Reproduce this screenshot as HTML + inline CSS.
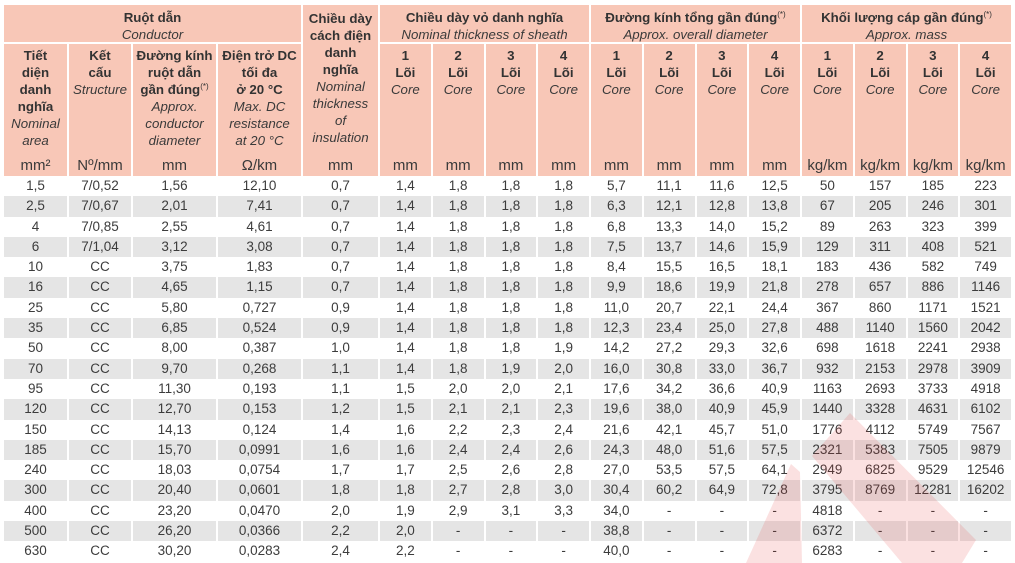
<!DOCTYPE html>
<html>
<head>
<meta charset="utf-8">
<style>
html,body{margin:0;padding:0}
body{width:1015px;height:563px;background:#fff;overflow:hidden;position:relative;font-family:"Liberation Sans","DejaVu Sans",sans-serif}
.g{position:absolute;left:4px;top:5px;display:grid;grid-template-columns:63px 64px 85px 85px 77px repeat(12,52.75px);grid-template-rows:38.5px 132.5px repeat(19,20.3px)}
.g>div,.r>div{box-sizing:border-box;border-left:2px solid #fff;text-align:center;overflow:hidden;white-space:nowrap}
.h{background:#f8c7b7;color:#333;font-weight:bold;font-size:13.3px;line-height:17px}
.h i{font-weight:normal;color:#3a3a3a}
.t{padding-top:4px;border-bottom:2px solid #fff}
.s{display:flex;flex-direction:column;padding-top:3px;padding-bottom:2px}
.s .u{margin-top:auto;font-weight:normal;font-size:15px;line-height:17px;color:#3a3a3a}
.nl{border-left:0 !important}
sup{font-size:8px;line-height:0;vertical-align:5px;font-weight:normal}
.r{display:contents}
.r>div{font-size:13.5px;line-height:20.3px;color:#3c3c3c}
.r>div:first-child{border-left:0}
.r.k>div{background:#e5e5e5}
svg{position:absolute;left:0;top:0}
</style>
</head>
<body>
<div class="g">
  <div class="h t nl" style="grid-column:1/5;grid-row:1">Ruột dẫn<br><i>Conductor</i></div>
  <div class="h s" style="grid-column:5;grid-row:1/3;padding-top:4.5px"><div>Chiều dày<br>cách điện<br>danh<br>nghĩa<br><i>Nominal<br>thickness<br>of<br>insulation</i></div><div class="u">mm</div></div>
  <div class="h t" style="grid-column:6/10;grid-row:1">Chiều dày vỏ danh nghĩa<br><i>Nominal thickness of sheath</i></div>
  <div class="h t" style="grid-column:10/14;grid-row:1">Đường kính tổng gần đúng<sup>(*)</sup><br><i>Approx. overall diameter</i></div>
  <div class="h t" style="grid-column:14/18;grid-row:1">Khối lượng cáp gần đúng<sup>(*)</sup><br><i>Approx. mass</i></div>

  <div class="h s nl" style="grid-column:1;grid-row:2"><div>Tiết<br>diện<br>danh<br>nghĩa<br><i>Nominal<br>area</i></div><div class="u">mm²</div></div>
  <div class="h s" style="grid-column:2;grid-row:2"><div>Kết<br>cấu<br><i>Structure</i></div><div class="u">Nº/mm</div></div>
  <div class="h s" style="grid-column:3;grid-row:2"><div>Đường kính<br>ruột dẫn<br>gần đúng<sup>(*)</sup><br><i>Approx.<br>conductor<br>diameter</i></div><div class="u">mm</div></div>
  <div class="h s" style="grid-column:4;grid-row:2"><div>Điện trở DC<br>tối đa<br>ở 20 °C<br><i>Max. DC<br>resistance<br>at 20 °C</i></div><div class="u">Ω/km</div></div>

  <div class="h s" style="grid-column:6;grid-row:2"><div>1<br>Lõi<br><i>Core</i></div><div class="u">mm</div></div>
  <div class="h s" style="grid-column:7;grid-row:2"><div>2<br>Lõi<br><i>Core</i></div><div class="u">mm</div></div>
  <div class="h s" style="grid-column:8;grid-row:2"><div>3<br>Lõi<br><i>Core</i></div><div class="u">mm</div></div>
  <div class="h s" style="grid-column:9;grid-row:2"><div>4<br>Lõi<br><i>Core</i></div><div class="u">mm</div></div>
  <div class="h s" style="grid-column:10;grid-row:2"><div>1<br>Lõi<br><i>Core</i></div><div class="u">mm</div></div>
  <div class="h s" style="grid-column:11;grid-row:2"><div>2<br>Lõi<br><i>Core</i></div><div class="u">mm</div></div>
  <div class="h s" style="grid-column:12;grid-row:2"><div>3<br>Lõi<br><i>Core</i></div><div class="u">mm</div></div>
  <div class="h s" style="grid-column:13;grid-row:2"><div>4<br>Lõi<br><i>Core</i></div><div class="u">mm</div></div>
  <div class="h s" style="grid-column:14;grid-row:2"><div>1<br>Lõi<br><i>Core</i></div><div class="u">kg/km</div></div>
  <div class="h s" style="grid-column:15;grid-row:2"><div>2<br>Lõi<br><i>Core</i></div><div class="u">kg/km</div></div>
  <div class="h s" style="grid-column:16;grid-row:2"><div>3<br>Lõi<br><i>Core</i></div><div class="u">kg/km</div></div>
  <div class="h s" style="grid-column:17;grid-row:2"><div>4<br>Lõi<br><i>Core</i></div><div class="u">kg/km</div></div>

  <div class="r"><div>1,5</div><div>7/0,52</div><div>1,56</div><div>12,10</div><div>0,7</div><div>1,4</div><div>1,8</div><div>1,8</div><div>1,8</div><div>5,7</div><div>11,1</div><div>11,6</div><div>12,5</div><div>50</div><div>157</div><div>185</div><div>223</div></div>
  <div class="r k"><div>2,5</div><div>7/0,67</div><div>2,01</div><div>7,41</div><div>0,7</div><div>1,4</div><div>1,8</div><div>1,8</div><div>1,8</div><div>6,3</div><div>12,1</div><div>12,8</div><div>13,8</div><div>67</div><div>205</div><div>246</div><div>301</div></div>
  <div class="r"><div>4</div><div>7/0,85</div><div>2,55</div><div>4,61</div><div>0,7</div><div>1,4</div><div>1,8</div><div>1,8</div><div>1,8</div><div>6,8</div><div>13,3</div><div>14,0</div><div>15,2</div><div>89</div><div>263</div><div>323</div><div>399</div></div>
  <div class="r k"><div>6</div><div>7/1,04</div><div>3,12</div><div>3,08</div><div>0,7</div><div>1,4</div><div>1,8</div><div>1,8</div><div>1,8</div><div>7,5</div><div>13,7</div><div>14,6</div><div>15,9</div><div>129</div><div>311</div><div>408</div><div>521</div></div>
  <div class="r"><div>10</div><div>CC</div><div>3,75</div><div>1,83</div><div>0,7</div><div>1,4</div><div>1,8</div><div>1,8</div><div>1,8</div><div>8,4</div><div>15,5</div><div>16,5</div><div>18,1</div><div>183</div><div>436</div><div>582</div><div>749</div></div>
  <div class="r k"><div>16</div><div>CC</div><div>4,65</div><div>1,15</div><div>0,7</div><div>1,4</div><div>1,8</div><div>1,8</div><div>1,8</div><div>9,9</div><div>18,6</div><div>19,9</div><div>21,8</div><div>278</div><div>657</div><div>886</div><div>1146</div></div>
  <div class="r"><div>25</div><div>CC</div><div>5,80</div><div>0,727</div><div>0,9</div><div>1,4</div><div>1,8</div><div>1,8</div><div>1,8</div><div>11,0</div><div>20,7</div><div>22,1</div><div>24,4</div><div>367</div><div>860</div><div>1171</div><div>1521</div></div>
  <div class="r k"><div>35</div><div>CC</div><div>6,85</div><div>0,524</div><div>0,9</div><div>1,4</div><div>1,8</div><div>1,8</div><div>1,8</div><div>12,3</div><div>23,4</div><div>25,0</div><div>27,8</div><div>488</div><div>1140</div><div>1560</div><div>2042</div></div>
  <div class="r"><div>50</div><div>CC</div><div>8,00</div><div>0,387</div><div>1,0</div><div>1,4</div><div>1,8</div><div>1,8</div><div>1,9</div><div>14,2</div><div>27,2</div><div>29,3</div><div>32,6</div><div>698</div><div>1618</div><div>2241</div><div>2938</div></div>
  <div class="r k"><div>70</div><div>CC</div><div>9,70</div><div>0,268</div><div>1,1</div><div>1,4</div><div>1,8</div><div>1,9</div><div>2,0</div><div>16,0</div><div>30,8</div><div>33,0</div><div>36,7</div><div>932</div><div>2153</div><div>2978</div><div>3909</div></div>
  <div class="r"><div>95</div><div>CC</div><div>11,30</div><div>0,193</div><div>1,1</div><div>1,5</div><div>2,0</div><div>2,0</div><div>2,1</div><div>17,6</div><div>34,2</div><div>36,6</div><div>40,9</div><div>1163</div><div>2693</div><div>3733</div><div>4918</div></div>
  <div class="r k"><div>120</div><div>CC</div><div>12,70</div><div>0,153</div><div>1,2</div><div>1,5</div><div>2,1</div><div>2,1</div><div>2,3</div><div>19,6</div><div>38,0</div><div>40,9</div><div>45,9</div><div>1440</div><div>3328</div><div>4631</div><div>6102</div></div>
  <div class="r"><div>150</div><div>CC</div><div>14,13</div><div>0,124</div><div>1,4</div><div>1,6</div><div>2,2</div><div>2,3</div><div>2,4</div><div>21,6</div><div>42,1</div><div>45,7</div><div>51,0</div><div>1776</div><div>4112</div><div>5749</div><div>7567</div></div>
  <div class="r k"><div>185</div><div>CC</div><div>15,70</div><div>0,0991</div><div>1,6</div><div>1,6</div><div>2,4</div><div>2,4</div><div>2,6</div><div>24,3</div><div>48,0</div><div>51,6</div><div>57,5</div><div>2321</div><div>5383</div><div>7505</div><div>9879</div></div>
  <div class="r"><div>240</div><div>CC</div><div>18,03</div><div>0,0754</div><div>1,7</div><div>1,7</div><div>2,5</div><div>2,6</div><div>2,8</div><div>27,0</div><div>53,5</div><div>57,5</div><div>64,1</div><div>2949</div><div>6825</div><div>9529</div><div>12546</div></div>
  <div class="r k"><div>300</div><div>CC</div><div>20,40</div><div>0,0601</div><div>1,8</div><div>1,8</div><div>2,7</div><div>2,8</div><div>3,0</div><div>30,4</div><div>60,2</div><div>64,9</div><div>72,8</div><div>3795</div><div>8769</div><div>12281</div><div>16202</div></div>
  <div class="r"><div>400</div><div>CC</div><div>23,20</div><div>0,0470</div><div>2,0</div><div>1,9</div><div>2,9</div><div>3,1</div><div>3,3</div><div>34,0</div><div>-</div><div>-</div><div>-</div><div>4818</div><div>-</div><div>-</div><div>-</div></div>
  <div class="r k"><div>500</div><div>CC</div><div>26,20</div><div>0,0366</div><div>2,2</div><div>2,0</div><div>-</div><div>-</div><div>-</div><div>38,8</div><div>-</div><div>-</div><div>-</div><div>6372</div><div>-</div><div>-</div><div>-</div></div>
  <div class="r"><div>630</div><div>CC</div><div>30,20</div><div>0,0283</div><div>2,4</div><div>2,2</div><div>-</div><div>-</div><div>-</div><div>40,0</div><div>-</div><div>-</div><div>-</div><div>6283</div><div>-</div><div>-</div><div>-</div></div>
</div>
<svg width="1015" height="563" viewBox="0 0 1015 563">
  <g fill="#e53935" fill-opacity="0.15">
    <polygon points="791,464 800,472 802,563 746,563"/>
    <polygon points="850,413 976,540 962,563 902,563 812,456"/>
  </g>
</svg>
</body>
</html>
